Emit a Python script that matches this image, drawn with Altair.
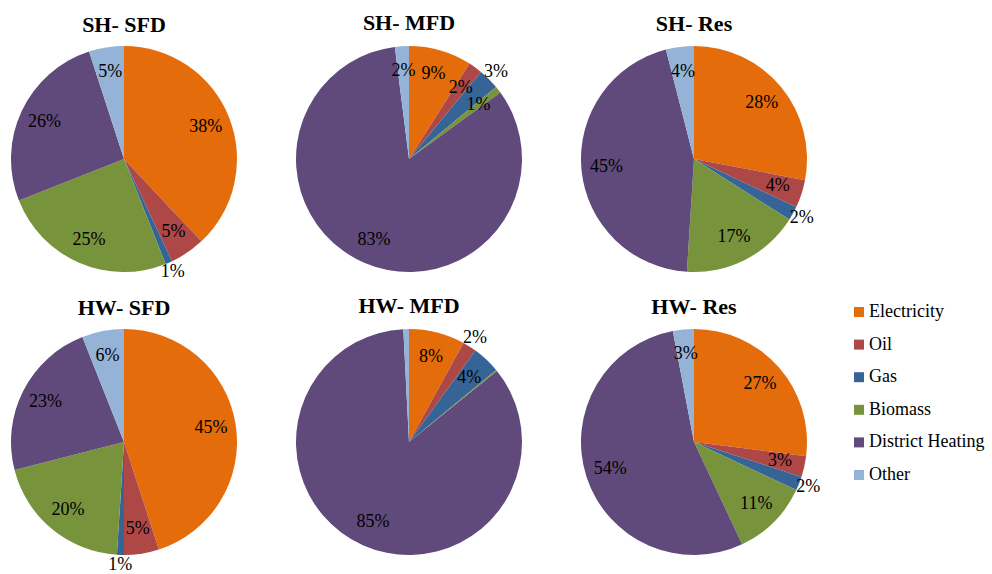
import altair as alt
import pandas as pd

# Energy carriers, in slice order (clockwise from 12 o'clock)
sources = ["Electricity", "Oil", "Gas", "Biomass", "District Heating", "Other"]
palette = ["#E46C0A", "#AE4846", "#376497", "#77933C", "#604A7B", "#95B3D7"]

# Shares in percent: space heating (SH) and hot water (HW)
sh_sfd = [38, 5, 1, 25, 26, 5]
sh_mfd = [9, 2, 3, 1, 83, 2]
sh_res = [28, 4, 2, 17, 45, 4]
hw_sfd = [45, 5, 1, 20, 23, 6]
hw_mfd = [8, 2, 4, 0.2, 85, 0.8]
hw_res = [27, 3, 2, 11, 54, 3]

titles = ["SH- SFD", "SH- MFD", "SH- Res", "HW- SFD", "HW- MFD", "HW- Res"]

R = 113
FONT = "Liberation Serif, Times New Roman, serif"


def shares_frame(values):
    """One row per slice; tiny slices crowding their neighbour get an outside label."""
    rows = []
    cum = 0.0
    prev_mid = None
    prev_out = False
    for i, (src, v) in enumerate(zip(sources, values)):
        mid = cum + v / 2
        cum += v
        labelled = v >= 1
        outside = False
        if labelled:
            if v <= 3 and prev_mid is not None and not prev_out and mid - prev_mid < 5.5:
                outside = True
            prev_mid, prev_out = mid, outside
        label = f"{v:.0f}%"
        rows.append(
            dict(
                source=src,
                order=i,
                share=v,
                lab_in=label if labelled and not outside else "",
                lab_out=label if labelled and outside else "",
            )
        )
    return pd.DataFrame(rows)


legend = alt.Legend(
    title=None,
    orient="none",
    legendX=839,
    legendY=257,
    symbolType="square",
    symbolSize=100,
    symbolStrokeWidth=0,
    labelFont=FONT,
    labelFontSize=18,
    labelColor="#000000",
    labelOffset=1,
    rowPadding=14.6,
    labelLimit=300,
)


def pie(values, title):
    df = shares_frame(values)
    base = alt.Chart(df).encode(
        theta=alt.Theta("share:Q", stack=True, scale=alt.Scale(domain=[0, 100])),
        order=alt.Order("order:Q"),
    )
    arcs = base.mark_arc(outerRadius=R).encode(
        color=alt.Color(
            "source:N",
            scale=alt.Scale(domain=sources, range=palette),
            legend=legend,
        )
    )
    inner = base.mark_text(radius=88, font=FONT, fontSize=18, color="#000000").encode(
        text="lab_in:N"
    )
    outer = base.mark_text(radius=123, font=FONT, fontSize=18, color="#000000").encode(
        text="lab_out:N"
    )
    return alt.layer(arcs, inner, outer).properties(
        width=2 * R,
        height=2 * R,
        title=alt.TitleParams(
            title,
            font=FONT,
            fontSize=22,
            fontWeight="bold",
            color="#000000",
            anchor="middle",
            offset=-8,
        ),
    )


values_all = [sh_sfd, sh_mfd, sh_res, hw_sfd, hw_mfd, hw_res]

chart = (
    alt.concat(
        *[pie(v, t) for v, t in zip(values_all, titles)],
        columns=3,
        spacing={"row": 57, "column": 59},
        bounds="flush",
    )
    .properties(padding={"left": 11, "top": 12, "right": 0, "bottom": 0}, background="white")
    .configure(font=FONT)
    .configure_text(font=FONT)
    .configure_legend(labelFont=FONT)
    .configure_view(stroke=None)
)

chart.save("out.html", embed_options={"renderer": "svg", "actions": False})
